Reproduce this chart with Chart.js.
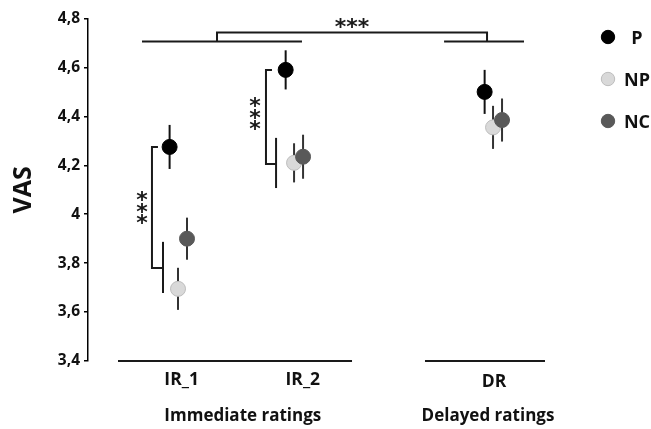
<!DOCTYPE html>
<html><head><meta charset="utf-8">
<script src="https://cdn.jsdelivr.net/npm/chart.js@4.4.0/dist/chart.umd.min.js"></script>
<style>html,body{margin:0;padding:0;background:#fff;}canvas{display:block;}</style>
</head><body>
<canvas id="c" width="651" height="429"></canvas>
<script>
// ---- data ----
const categories = ['IR_1', 'IR_2', 'DR'];
const categoryPos = [1, 1.967, 3.625];
const labelPos = [1.03, 2.04, 3.633];
const seriesNames = ['P', 'NP', 'NC'];
const pMean = [4.275, 4.59, 4.50];
const pErr = [0.09, 0.08, 0.09];
const npMean = [3.695, 4.21, 4.355];
const npErr = [0.086, 0.08, 0.088];
const ncMean = [3.90, 4.235, 4.385];
const ncErr = [0.086, 0.09, 0.088];
const yTickValues = [3.4, 3.6, 3.8, 4.0, 4.2, 4.4, 4.6, 4.8];
const yTickLabels = ['3,4', '3,6', '3,8', '4', '4,2', '4,4', '4,6', '4,8'];
const groupNames = ['Immediate ratings', 'Delayed ratings'];
const groupSpan = [[0.5, 2.45], [3.058, 4.058]];
const groupLabelPos = [1.54, 3.583];
const sigLabel = '***';

// ---- styles ----
const seriesColors = ['#000000', '#d9d9d9', '#595959'];
const seriesBorders = ['#000000', '#bdbdbd', '#595959'];
const seriesOffset = [-0.07, 0, 0.075];
const means = [pMean, npMean, ncMean];
const errs = [pErr, npErr, ncErr];
const TXT = '#111111';
const LINE = '#1a1a1a';

const datasets = seriesNames.map((name, s) => ({
  label: name,
  data: categoryPos.map((x, i) => ({ x: x + seriesOffset[s], y: means[s][i] })),
  backgroundColor: seriesColors[s],
  borderColor: seriesBorders[s],
  borderWidth: 1,
  pointRadius: 7.5,
  pointHoverRadius: 7.5,
  showLine: false,
  order: 2 - s,
  errors: errs[s]
}));

function line(ctx, x1, y1, x2, y2) {
  ctx.beginPath(); ctx.moveTo(x1, y1); ctx.lineTo(x2, y2); ctx.stroke();
}
function centeredText(ctx, text, x, y, rot) {
  ctx.save();
  ctx.translate(x, y);
  if (rot) ctx.rotate(rot);
  ctx.textAlign = 'center';
  ctx.textBaseline = 'alphabetic';
  const m = ctx.measureText(text);
  const off = (m.actualBoundingBoxAscent - m.actualBoundingBoxDescent) / 2;
  ctx.fillText(text, 0, off);
  ctx.restore();
}
function stars(ctx, text, x, y, vertical) {
  const pitch = 11.5;
  const chars = Array.from(text);
  const n = chars.length;
  chars.forEach((ch, k) => {
    const d = (k - (n - 1) / 2) * pitch;
    centeredText(ctx, ch, vertical ? x : x + d, vertical ? y + d : y, 0);
  });
}

const annot = {
  id: 'annot',
  beforeDatasetsDraw(chart) {
    const ctx = chart.ctx, X = chart.scales.x, Y = chart.scales.y;
    const px = v => X.getPixelForValue(v), py = v => Y.getPixelForValue(v);
    ctx.save();
    // error bars
    ctx.lineWidth = 2;
    chart.data.datasets.forEach((ds, s) => {
      ctx.strokeStyle = s === 0 ? '#111' : '#333';
      ds.data.forEach((d, i) => {
        line(ctx, px(d.x), py(d.y + ds.errors[i]), px(d.x), py(d.y - ds.errors[i]));
      });
    });
    // brackets
    ctx.strokeStyle = LINE; ctx.lineWidth = 2; ctx.lineCap = 'butt';
    // IR_1 bracket
    ctx.beginPath();
    ctx.moveTo(px(0.833), py(pMean[0])); ctx.lineTo(px(0.783), py(pMean[0]));
    ctx.lineTo(px(0.783), py(3.78)); ctx.lineTo(px(0.875), py(3.78));
    ctx.stroke();
    line(ctx, px(0.875), py(3.887), px(0.875), py(3.678));
    // IR_2 bracket
    ctx.beginPath();
    ctx.moveTo(px(1.783), py(pMean[1])); ctx.lineTo(px(1.733), py(pMean[1]));
    ctx.lineTo(px(1.733), py(4.205)); ctx.lineTo(px(1.817), py(4.205));
    ctx.stroke();
    line(ctx, px(1.817), py(4.312), px(1.817), py(4.107));
    // top bracket
    line(ctx, px(0.70), py(4.706), px(2.033), py(4.706));
    line(ctx, px(3.217), py(4.706), px(3.883), py(4.706));
    ctx.beginPath();
    ctx.moveTo(px(1.325), py(4.706)); ctx.lineTo(px(1.325), py(4.743));
    ctx.lineTo(px(3.575), py(4.743)); ctx.lineTo(px(3.575), py(4.706));
    ctx.stroke();
    // group lines
    groupSpan.forEach(g => line(ctx, px(g[0]), py(3.4), px(g[1]), py(3.4)));
    // stars
    ctx.fillStyle = '#1a1a1a';
    ctx.font = 'bold 22px "DejaVu Sans"';
    stars(ctx, sigLabel, px(2.45), py(4.782), false);
    stars(ctx, sigLabel, px(0.70), py(4.026), true);
    stars(ctx, sigLabel, px(1.642), py(4.41), true);
    ctx.restore();
  },
  afterDraw(chart) {
    const ctx = chart.ctx, X = chart.scales.x, Y = chart.scales.y;
    const px = v => X.getPixelForValue(v), py = v => Y.getPixelForValue(v);
    ctx.save();
    ctx.fillStyle = TXT;
    ctx.font = 'bold 17.5px "Open Sans"';
    categories.forEach((c, i) => centeredText(ctx, c, px(labelPos[i]), py(3.322), 0));
    ctx.font = 'bold 17px "Open Sans"';
    groupNames.forEach((g, i) => centeredText(ctx, g, px(groupLabelPos[i]), py(3.175), 0));
    // legend
    const ly = [37, 79, 121];
    chart.data.datasets.forEach((ds, s) => {
      ctx.beginPath();
      ctx.arc(608, ly[s], 6.7, 0, Math.PI * 2);
      ctx.fillStyle = ds.backgroundColor; ctx.fill();
      ctx.lineWidth = 1; ctx.strokeStyle = ds.borderColor; ctx.stroke();
      ctx.fillStyle = TXT;
      ctx.font = 'bold 18px "Open Sans"';
      centeredText(ctx, ds.label, 637, ly[s], 0);
    });
    ctx.restore();
  }
};

new Chart(document.getElementById('c'), {
  type: 'scatter',
  data: { datasets },
  options: {
    responsive: false,
    animation: false,
    devicePixelRatio: 1,
    layout: { padding: { top: 18.5, bottom: 68, right: 91, left: 0 } },
    plugins: { legend: { display: false }, tooltip: { enabled: false } },
    events: [],
    scales: {
      x: { type: 'linear', min: 0.25, max: 4.183, display: false },
      y: {
        type: 'linear', min: 3.4, max: 4.8,
        afterFit: s => { s.width = 88; },
        afterBuildTicks: s => { s.ticks = yTickValues.map(v => ({ value: v })); },
        ticks: {
          padding: 4, color: TXT,
          font: { family: '"Open Sans"', weight: 'bold', size: 15.5 },
          callback: (v, i) => yTickLabels[i]
        },
        grid: { drawOnChartArea: false, drawTicks: true, tickLength: 4, color: '#000', lineWidth: 1.5 },
        border: { display: true, color: '#000', width: 1.5 },
        title: {
          display: true, text: 'VAS', color: TXT,
          font: { family: '"Open Sans"', weight: 'bold', size: 25 },
          padding: { top: 9, bottom: 0 }
        }
      }
    }
  },
  plugins: [annot]
});
</script>
</body></html>
